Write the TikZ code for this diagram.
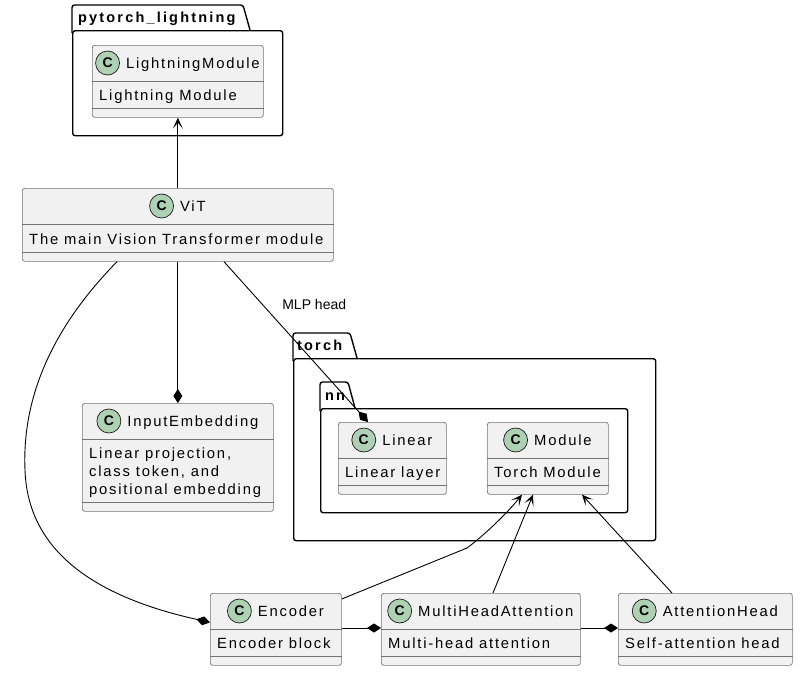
\documentclass[tikz,border=0pt]{standalone}
\usepackage{fontspec}
\setmainfont{Liberation Sans}
\newfontfamily\umlfont{Liberation Sans}[LetterSpace=12]
\newfontfamily\pkgfont{Liberation Sans}[LetterSpace=15]
\usepackage{xcolor}
\usepackage{tikz}
\usetikzlibrary{positioning,calc}
\usetikzlibrary{arrows.meta}

\definecolor{umlbg}{HTML}{F1F1F1}
\definecolor{umlgreen}{HTML}{ADD1B2}
\definecolor{umlline}{HTML}{181818}

\tikzset{
  classbox/.style={draw=black!55, fill=umlbg, rounded corners=2.5pt, line width=0.7pt, inner sep=0pt},
  classline/.style={draw=black!55, line width=0.7pt},
  titletext/.style={inner sep=0pt, text height=10.6pt, text depth=0pt, font=\umlfont\fontsize{14.8}{17}\selectfont},
  bodytext/.style={inner sep=0pt, align=left, font=\umlfont\fontsize{14.8}{18}\selectfont},
  cbadge/.style={circle, draw=umlline, fill=umlgreen, minimum size=24pt, inner sep=0pt, line width=0.7pt, font=\bfseries\fontsize{14}{14}\selectfont},
  pkgbox/.style={draw=black, line width=1.4pt, rounded corners=2.5pt, inner sep=0pt},
  pkgline/.style={draw=black, line width=1.4pt, rounded corners=2.5pt},
  pkgtitle/.style={inner sep=0pt, text height=10.4pt, text depth=0pt, font=\pkgfont\bfseries\fontsize{14.5}{17}\selectfont},
  dep/.style={draw=black, line width=0.9pt, -{Stealth[length=11pt,width=10pt,inset=6pt]}},
  comp/.style={draw=black, line width=0.9pt, -{Diamond[length=14pt,width=9pt]}},
  edgelabel/.style={inner sep=0pt, font=\fontsize{14}{16}\selectfont},
}

% class box: name, top left, width, body height, title, body
% (body text hangs from its last baseline)
\newcommand{\umlclass}[6]{%
  \node[classbox, anchor=north west, minimum width=#3pt, minimum height=45pt+#4pt] (#1) at (#2) {};
  \draw[classline] ([yshift=-36pt]#1.north west) -- ([yshift=-36pt]#1.north east);
  \draw[classline] ([yshift=9pt]#1.south west) -- ([yshift=9pt]#1.south east);
  \node[titletext] (#1-t) at ([xshift=15pt,yshift=-18pt]#1.north) {#5};
  \node[cbadge, left=6pt of #1-t] (#1-c) {C};
  \node[bodytext, anchor=base west] (#1-b) at ([xshift=7pt,yshift=-28.5pt-#4pt]#1.north west) {#6};
}

\begin{document}
\begin{tikzpicture}[x=1pt, y=-1pt]
  \fill[white] (0,0) rectangle (800,673);
  \useasboundingbox (0,0) rectangle (800,673);

  % packages
  \node[pkgbox, anchor=north west, minimum width=210pt, minimum height=105pt] (pl) at (72,30) {};
  \draw[pkgline] ([yshift=-3pt]pl.north west) |- ([xshift=171pt,yshift=25pt]pl.north west) -- ([xshift=178pt]pl.north west);
  \node[pkgtitle, anchor=west] (pl-t) at ([xshift=6pt,yshift=12.5pt]pl.north west) {pytorch\_lightning};

  \node[pkgbox, anchor=north west, minimum width=362pt, minimum height=182pt] (torch) at (293,358) {};
  \draw[pkgline] ([yshift=-3pt]torch.north west) |- ([xshift=57pt,yshift=25pt]torch.north west) -- ([xshift=64pt]torch.north west);
  \node[pkgtitle, anchor=west] (torch-t) at ([xshift=4pt,yshift=12.5pt]torch.north west) {torch};

  \node[pkgbox, anchor=north west, minimum width=307pt, minimum height=104pt] (nn) at (320,408) {};
  \draw[pkgline] ([yshift=-3pt]nn.north west) |- ([xshift=28pt,yshift=26pt]nn.north west) -- ([xshift=35pt]nn.north west);
  \node[pkgtitle, anchor=west] (nn-t) at ([xshift=5pt,yshift=13pt]nn.north west) {nn};

  % classes
  \umlclass{lm}{92,45}{171}{27}{LightningModule}{Lightning Module}
  \umlclass{vit}{22,188}{311}{28}{ViT}{The main Vision Transformer module}
  \umlclass{inemb}{82,403}{191}{63}{InputEmbedding}{Linear projection,\\class token, and\\positional embedding}
  \umlclass{linear}{338,422}{108}{27}{Linear}{Linear layer}
  \umlclass{module}{487,422}{121}{27}{Module}{Torch Module}
  \umlclass{enc}{210,593}{131}{27}{Encoder}{Encoder block}
  \umlclass{mha}{381,593}{199}{27}{MultiHeadAttention}{Multi-head attention}
  \umlclass{ahead}{618,593}{174}{27}{AttentionHead}{Self-attention head}

  % connectors
  \draw[dep] (vit.north) -- (lm.south);
  \draw[comp] (vit.south) -- (inemb.north);
  \draw[comp] ([xshift=202pt]vit.south west) -- ([xshift=30pt]linear.north west)
    node[edgelabel, pos=0.27, anchor=west, xshift=19pt] (mlp) {MLP head};
  \draw[comp] ([xshift=95pt]vit.south west) .. controls (50,330) and (22,400) .. (25,470)
    .. controls (28,560) and (110,600) .. ([yshift=7pt]enc.west);

  \coordinate (encbend) at (467,548);
  \draw[dep] ([yshift=-6pt]enc.north east) -- (encbend) .. controls (487,533) and (508,512) .. ([xshift=35pt]module.south west);
  \draw[dep] ([xshift=112pt]mha.north west) -- ([xshift=46pt]module.south west);
  \draw[dep] ([xshift=54pt]ahead.north west) -- ([xshift=95pt]module.south west);

  \draw[comp] ([yshift=-35pt]enc.north east) -- ([yshift=-35pt]mha.north west);
  \draw[comp] ([yshift=-35pt]mha.north east) -- ([yshift=-35pt]ahead.north west);
\end{tikzpicture}
\end{document}
